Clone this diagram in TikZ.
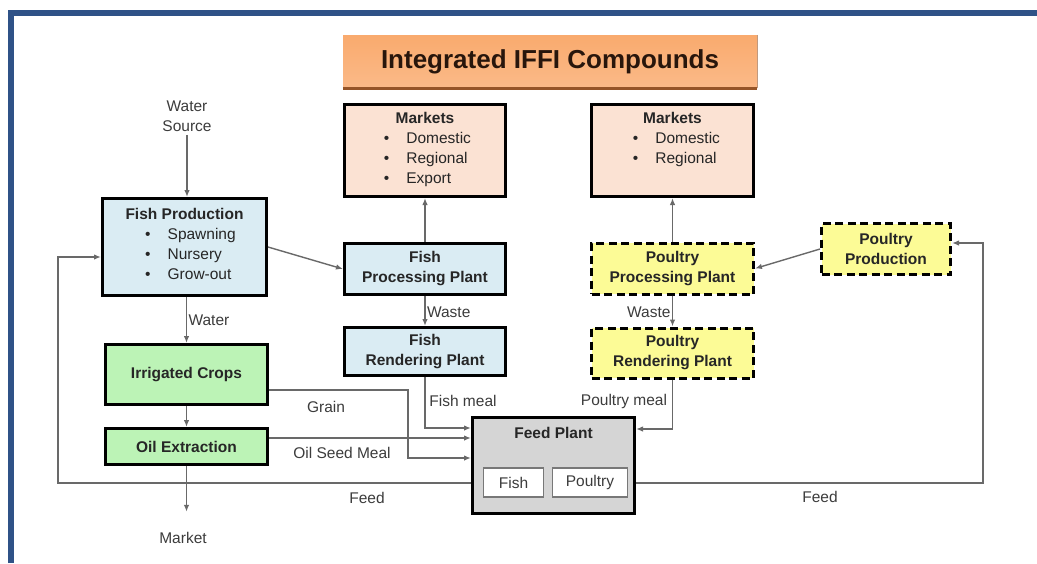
\documentclass[tikz,border=0pt]{standalone}
\usepackage{fontspec}
\setmainfont{Liberation Sans}
\usetikzlibrary{arrows.meta}

\definecolor{fishblue}{RGB}{218,236,243}
\definecolor{peach}{RGB}{251,226,211}
\definecolor{cropgreen}{RGB}{188,243,182}
\definecolor{poulyellow}{RGB}{252,251,150}
\definecolor{feedgray}{RGB}{213,213,213}
\definecolor{slotgray}{RGB}{120,120,120}
\definecolor{textdark}{RGB}{38,38,38}
\definecolor{labelgray}{RGB}{60,60,60}
\definecolor{linegray}{RGB}{105,105,105}
\definecolor{borderblue}{RGB}{47,82,135}
\definecolor{orgtop}{RGB}{249,170,110}
\definecolor{orgmid}{RGB}{247,146,62}
\definecolor{orgbot}{RGB}{251,186,136}
\definecolor{orgedge}{RGB}{150,85,40}
\definecolor{titletext}{RGB}{40,22,12}

\newcommand{\dotlist}[1]{\begin{tabular}[t]{@{}l@{\hspace{17pt}}l@{}}#1\end{tabular}}

\tikzset{
	every node/.style={font=\fontsize{15.5}{20}\selectfont},
	head/.style={font=\fontsize{15.5}{20}\selectfont\bfseries},
	box/.style={draw=black, line width=3pt, align=center, text=textdark, inner sep=2pt},
	fishbox/.style={box, fill=fishblue},
	mktbox/.style={box, fill=peach},
	cropbox/.style={box, fill=cropgreen, head},
	poulbox/.style={box, fill=poulyellow, head, dash pattern=on 8pt off 4.5pt},
	slot/.style={draw=slotgray, line width=1.2pt, fill=white, text=labelgray, minimum height=29pt},
	lbl/.style={text=labelgray},
	flow/.style={draw=linegray, line width=1.4pt, -{Latex[length=7pt,width=5.5pt]}},
	banner/.style={minimum width=414pt, minimum height=53pt, top color=orgtop, middle color=orgmid,
		bottom color=orgbot, text=titletext, font=\fontsize{26}{30}\selectfont\bfseries},
}

\begin{document}
\begin{tikzpicture}[x=1pt,y=-1pt]
	\useasboundingbox (0,0) rectangle (1037,563);
	\fill[white] (0,0) rectangle (1037,563);
	\draw[borderblue, line width=6pt] (11,563) -- (11,13) -- (1037,13);

	% heading
	\node[banner] (banner) at (550,61.5) {Integrated IFFI Compounds};
	\draw[orgedge, line width=3pt] (banner.south west) -- (banner.south east);
	\draw[orgedge!60, line width=1.2pt] (banner.north east) -- (banner.south east);

	% fish side
	\node[lbl, align=center] (watersrc) at (187,116) {Water\\Source};
	\node[fishbox, minimum width=164pt, minimum height=97pt] (fishprod) at (184.5,247)
		{\textbf{Fish Production}\\
		\hspace*{12pt}\dotlist{\textbullet & Spawning\\ \textbullet & Nursery\\ \textbullet & Grow-out}};
	\node[mktbox, minimum width=161pt, minimum height=92pt] (mktfish) at (425,150.5)
		{\textbf{Markets}\\
		\hspace*{5pt}\dotlist{\textbullet & Domestic\\ \textbullet & Regional\\ \textbullet & Export}};
	\node[fishbox, head, minimum width=161pt, minimum height=51pt] (fishproc) at (425,269) {Fish\\Processing Plant};
	\node[fishbox, head, minimum width=161pt, minimum height=48pt] (fishrend) at (425,351.5) {Fish\\Rendering Plant};

	% crops
	\node[cropbox, minimum width=162pt, minimum height=60pt] (crops) at (186.5,374.5) {Irrigated Crops};
	\node[cropbox, minimum width=162pt, minimum height=36pt] (oil) at (186.5,446.5) {Oil Extraction};
	\node[lbl] (mkt) at (183,538) {Market};

	% poultry side
	\node[mktbox, minimum width=162pt, minimum height=92pt] (mktpoul) at (672.5,150.5)
		{\textbf{Markets}\\
		\hspace*{8pt}\dotlist{\textbullet & Domestic\\ \textbullet & Regional\\ & }};
	\node[poulbox, minimum width=162pt, minimum height=51pt] (poulproc) at (672.5,268.5) {Poultry\\Processing Plant};
	\node[poulbox, minimum width=162pt, minimum height=50pt] (poulrend) at (672.5,353) {Poultry\\Rendering Plant};
	\node[poulbox, minimum width=129pt, minimum height=51pt] (poulprod) at (886,249) {Poultry\\Production};

	% feed plant
	\node[box, fill=feedgray, minimum width=162pt, minimum height=96pt,
		label={[anchor=north, yshift=-8pt, head, text=textdark]north:Feed Plant}] (feed) at (553.5,465.5) {};
	\node[slot, minimum width=60pt] (feedfish) at (513.5,482.5) {Fish};
	\node[slot, minimum width=75pt] (feedpoul) at (590,482.5) {Poultry};

	% flows
	\draw[flow] (watersrc) -- (watersrc |- fishprod.north);
	\draw[flow] (fishprod.east) -- (fishproc.west);
	\draw[flow] (fishproc) -- (mktfish);
	\draw[flow] (fishproc) -- (fishrend) node[lbl, midway, right, xshift=-2pt, yshift=-1pt] {Waste};
	\draw[flow] (crops.north |- fishprod.south) -- (crops.north) node[lbl, midway, right, xshift=-2pt] {Water};
	\draw[flow] (crops) -- (oil);
	\draw[flow, shorten >=17pt] (oil.south) -- (oil.south |- mkt.north);

	\draw[flow] ([yshift=-15.5pt]crops.east) -| ([xshift=-63pt,yshift=7.5pt]feed.west) -- ([yshift=7.5pt]feed.west);
	\draw[flow] ([yshift=27.5pt]feed.west -| oil.east) -- ([yshift=27.5pt]feed.west);
	\draw[flow] (fishrend) |- ([yshift=37.5pt]feed.west);
	\draw[flow] (poulrend) |- ([yshift=36.5pt]feed.east);

	\draw[flow] ([yshift=-17.5pt]feed.west) -| ([xshift=-43pt,yshift=-10pt]fishprod.west) -- ([yshift=-10pt]fishprod.west);
	\draw[flow] ([yshift=-17.5pt]feed.east) -| ([xshift=31pt,yshift=6pt]poulprod.east) -- ([yshift=6pt]poulprod.east);

	\draw[flow] (poulprod.west) -- (poulproc.east);
	\draw[flow] (poulproc) -- (mktpoul);
	\draw[flow] (poulproc) -- (poulrend) node[lbl, midway, left, xshift=2pt, yshift=-1pt] {Waste};

	% flow labels
	\node[lbl] (grainlbl) at (326,407) {Grain};
	\node[lbl] (oilseedlbl) at (342,453) {Oil Seed Meal};
	\node[lbl] (fishmeallbl) at (463,401) {Fish meal};
	\node[lbl] (poulmeallbl) at (624,401) {Poultry meal};
	\node[lbl] (feedleftlbl) at (367,498) {Feed};
	\node[lbl] (feedrightlbl) at (820,497) {Feed};
\end{tikzpicture}
\end{document}
